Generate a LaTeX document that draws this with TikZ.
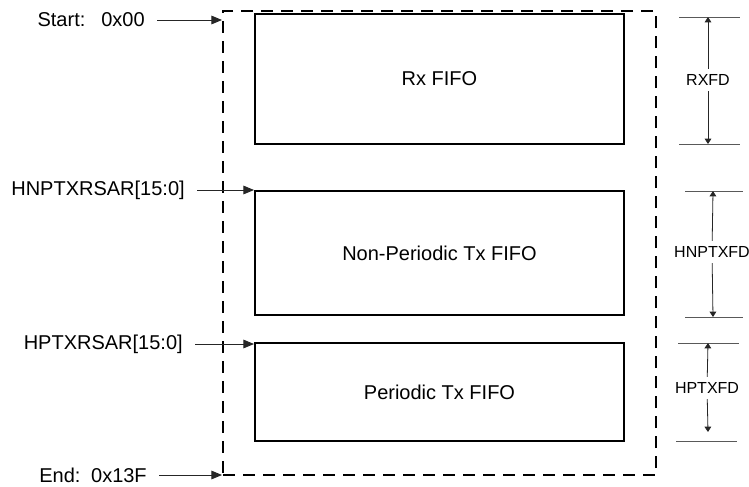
\documentclass[tikz,border=0pt]{standalone}
\usepackage{fontspec}
\setmainfont{Liberation Sans}
\usetikzlibrary{arrows.meta, positioning}

\begin{document}
\begin{tikzpicture}[
    x=0.75pt, y=-0.75pt,
    fifo/.style={rectangle, draw, line width=1.5pt, minimum width=276.75pt,
                 font=\fontsize{15}{18}\selectfont},
    region/.style={rectangle, draw, line width=1.5pt, dash pattern=on 9pt off 6pt,
                   minimum width=324.75pt, minimum height=348pt},
    addr/.style={inner sep=0pt, anchor=east, font=\fontsize{15}{18}\selectfont},
    arr/.style={-{Triangle[length=8pt, width=6.5pt]}, line width=0.7pt, black!85,
                shorten <=9pt},
    dim/.style={-{Triangle[length=4pt, width=5pt]}, line width=0.6pt, black!85},
    tick/.style={line width=0.6pt, black!65},
    dimlbl/.style={inner xsep=0pt, inner ysep=4pt, font=\fontsize{12}{14}\selectfont}
  ]
  \useasboundingbox (0,0) rectangle (749,486);

  % memory region and the three FIFOs
  \node[region] (mem) at (439.5,243) {};
  \node[fifo, minimum height=97.5pt] (rx) at (439.5,79) {Rx FIFO};
  \node[fifo, minimum height=93pt] (np) at (439.5,253) {Non-Periodic Tx FIFO};
  \node[fifo, minimum height=73.5pt] (ptx) at (439.5,392) {Periodic Tx FIFO};

  % start addresses
  \node[addr] (start) at (145,20) {Start:\hspace{12pt}0x00};
  \node[addr] (hnp) at (185,190) {HNPTXRSAR[15:0]};
  \node[addr] (hp) at (183,344) {HPTXRSAR[15:0]};
  \node[addr] (end) at (147,475) {End:\hspace{8pt}0x13F};

  \draw[arr] (start) -- (start -| mem.west);
  \draw[arr] (hnp) -- (hnp -| np.west);
  \draw[arr] (hp) -- (hp -| ptx.west);
  \draw[arr] (end) -- (end -| mem.west);

  % depths
  \coordinate (rxtop) at (708,17);
  \coordinate (rxbot) at (708,144);
  \coordinate (nptop) at (713,191);
  \coordinate (npbot) at (713,317);
  \coordinate (ptop) at (708,343);
  \coordinate (pbot) at (708,432);

  \draw[tick] (rxtop) ++(-29,0) -- ++(61,0);
  \draw[tick] (rxbot) ++(-29,0) -- ++(61,0);
  \draw[tick] (nptop) ++(-28,0) -- ++(58,0);
  \draw[tick] (npbot) ++(-28,0) -- ++(58,0);
  \draw[tick] (ptop) ++(-30,0) -- ++(61,0);
  \draw[tick] (pbot) ++(-32,9) -- ++(61,0);

  \node[dimlbl] (rxfd) at (708,80) {RXFD};
  \node[dimlbl] (npfd) at (712,252) {HNPTXFD};
  \node[dimlbl] (pfd) at (707,388) {HPTXFD};

  \draw[dim] (rxfd) -- (rxtop);
  \draw[dim] (rxfd) -- (rxbot);
  \draw[dim] (npfd) -- (nptop);
  \draw[dim] (npfd) -- (npbot);
  \draw[dim] (pfd) -- (ptop);
  \draw[dim] (pfd) -- (pbot);
\end{tikzpicture}
\end{document}
